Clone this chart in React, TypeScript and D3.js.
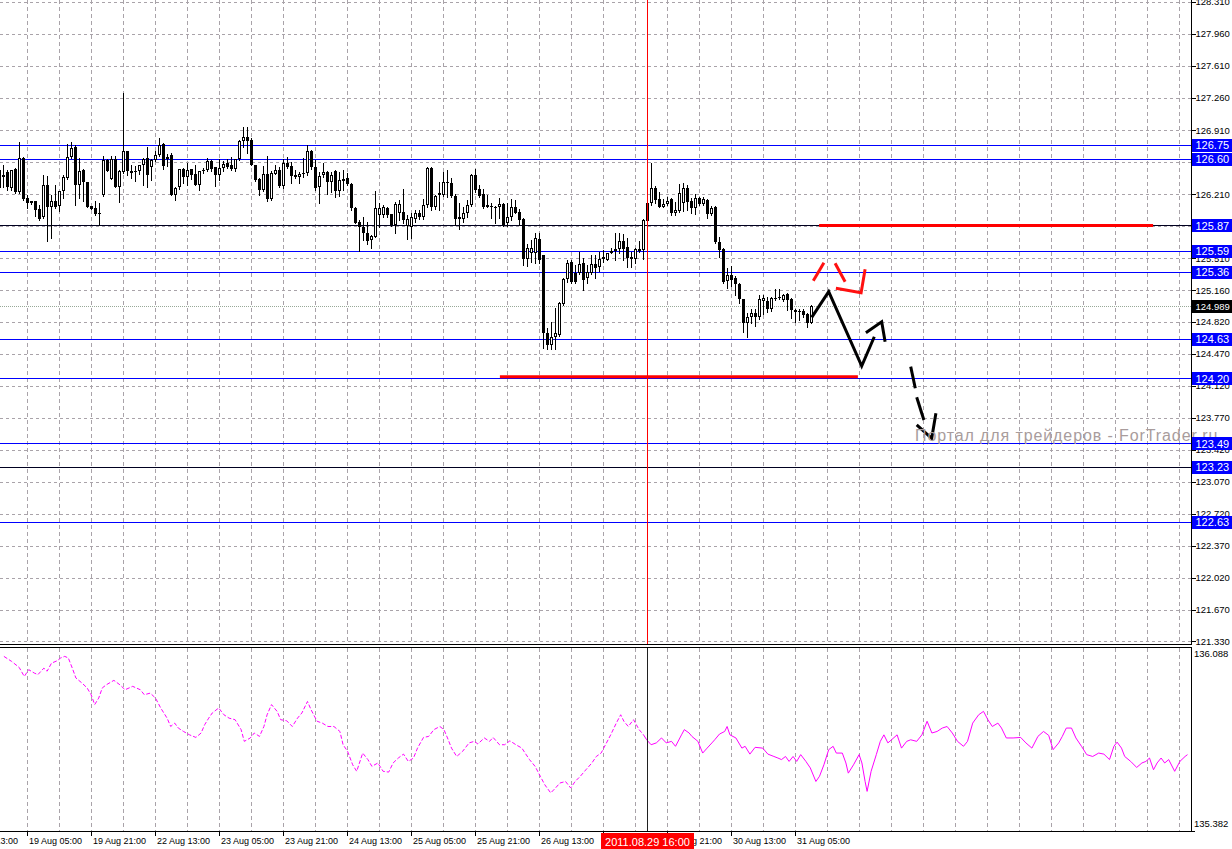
import React from "react";
import * as d3 from "d3";

// ---------- DATA ----------
// H1 bars, first bar index -1 (18 Aug 22:00). Rows: [open, high, low, close]
const FIRST_BAR = -1;
const bars: [number, number, number, number][] = [
  [126.478, 126.526, 126.27, 126.278],
  [126.394, 126.526, 126.285, 126.416],
  [126.453, 126.478, 126.26, 126.293],
  [126.278, 126.475, 126.256, 126.475],
  [126.489, 126.496, 126.223, 126.234],
  [126.234, 126.78, 126.223, 126.606],
  [126.606, 126.613, 126.151, 126.162],
  [126.169, 126.205, 126.06, 126.114],
  [126.111, 126.14, 126.103, 126.132],
  [126.132, 126.132, 125.969, 126.038],
  [126.045, 126.096, 125.932, 125.943],
  [125.965, 126.416, 125.95, 126.314],
  [126.314, 126.405, 125.703, 126.067],
  [126.067, 126.198, 125.732, 126.132],
  [126.132, 126.314, 126.06, 126.074],
  [126.078, 126.249, 126.023, 126.242],
  [126.242, 126.416, 126.169, 126.394],
  [126.387, 126.758, 126.38, 126.613],
  [126.62, 126.78, 126.606, 126.715],
  [126.722, 126.744, 126.089, 126.307],
  [126.307, 126.606, 126.169, 126.467],
  [126.475, 126.482, 126.132, 126.344],
  [126.344, 126.344, 126.067, 126.074],
  [126.081, 126.081, 126.052, 126.052],
  [126.06, 126.132, 125.987, 125.994],
  [126.001, 126.114, 125.878, 126.005],
  [126.198, 126.624, 126.187, 126.587],
  [126.587, 126.598, 126.46, 126.467],
  [126.38, 126.624, 126.38, 126.591],
  [126.591, 126.624, 126.285, 126.293],
  [126.293, 126.478, 126.125, 126.46],
  [126.453, 127.315, 126.442, 126.678],
  [126.678, 126.686, 126.416, 126.467],
  [126.467, 126.526, 126.387, 126.445],
  [126.467, 126.515, 126.358, 126.453],
  [126.46, 126.533, 126.431, 126.526],
  [126.526, 126.606, 126.314, 126.598],
  [126.606, 126.722, 126.285, 126.424],
  [126.504, 126.598, 126.369, 126.587],
  [126.587, 126.686, 126.577, 126.642],
  [126.642, 126.824, 126.624, 126.751],
  [126.758, 126.769, 126.489, 126.515],
  [126.62, 126.65, 126.52, 126.6],
  [126.635, 126.66, 126.198, 126.198],
  [126.198, 126.293, 126.151, 126.278],
  [126.285, 126.482, 126.263, 126.482],
  [126.482, 126.496, 126.333, 126.394],
  [126.394, 126.551, 126.314, 126.478],
  [126.489, 126.489, 126.38, 126.416],
  [126.431, 126.533, 126.314, 126.314],
  [126.307, 126.46, 126.26, 126.46],
  [126.475, 126.496, 126.442, 126.46],
  [126.475, 126.606, 126.467, 126.577],
  [126.569, 126.587, 126.467, 126.489],
  [126.504, 126.511, 126.303, 126.416],
  [126.416, 126.598, 126.369, 126.496],
  [126.496, 126.577, 126.46, 126.54],
  [126.555, 126.598, 126.496, 126.511],
  [126.526, 126.613, 126.475, 126.482],
  [126.482, 126.598, 126.467, 126.598],
  [126.598, 126.806, 126.587, 126.795],
  [126.795, 126.948, 126.722, 126.831],
  [126.839, 126.94, 126.66, 126.795],
  [126.802, 126.824, 126.526, 126.526],
  [126.526, 126.533, 126.351, 126.369],
  [126.38, 126.387, 126.205, 126.26],
  [126.26, 126.515, 126.249, 126.431],
  [126.431, 126.624, 126.14, 126.162],
  [126.162, 126.46, 126.151, 126.438],
  [126.431, 126.533, 126.431, 126.475],
  [126.475, 126.511, 126.293, 126.3],
  [126.3, 126.591, 126.275, 126.548],
  [126.548, 126.621, 126.493, 126.511],
  [126.519, 126.566, 126.329, 126.409],
  [126.417, 126.475, 126.384, 126.395],
  [126.395, 126.457, 126.329, 126.431],
  [126.431, 126.602, 126.402, 126.446],
  [126.439, 126.748, 126.42, 126.679],
  [126.679, 126.693, 126.482, 126.511],
  [126.504, 126.584, 126.257, 126.275],
  [126.293, 126.457, 126.111, 126.409],
  [126.417, 126.555, 126.402, 126.457],
  [126.457, 126.468, 126.213, 126.348],
  [126.348, 126.457, 126.238, 126.42],
  [126.464, 126.475, 126.184, 126.246],
  [126.246, 126.457, 126.191, 126.366],
  [126.359, 126.475, 126.257, 126.373],
  [126.384, 126.446, 126.311, 126.319],
  [126.319, 126.337, 126.04, 126.056],
  [126.056, 126.067, 125.893, 125.9],
  [125.911, 125.929, 125.594, 125.849],
  [125.849, 125.958, 125.711, 125.791],
  [125.791, 125.911, 125.667, 125.703],
  [125.711, 125.765, 125.62, 125.754],
  [125.747, 126.249, 125.74, 126.056],
  [125.984, 126.111, 125.856, 126.056],
  [125.984, 126.093, 125.96, 126.067],
  [126.056, 126.067, 125.965, 125.984],
  [125.995, 125.995, 125.864, 125.874],
  [125.874, 126.129, 125.783, 126.104],
  [126.009, 126.148, 125.929, 126.104],
  [126.016, 126.264, 125.893, 125.929],
  [125.864, 125.984, 125.718, 125.944],
  [125.849, 126.002, 125.729, 125.958],
  [125.944, 126.038, 125.911, 126.002],
  [126.002, 126.038, 125.936, 125.965],
  [125.965, 126.155, 125.944, 126.096],
  [126.093, 126.511, 126.067, 126.493],
  [126.493, 126.511, 126.038, 126.075],
  [126.075, 126.202, 126.045, 126.191],
  [126.202, 126.348, 126.038, 126.227],
  [126.202, 126.457, 126.191, 126.348],
  [126.348, 126.475, 126.177, 126.329],
  [126.337, 126.384, 126.177, 126.191],
  [126.191, 126.213, 125.874, 125.944],
  [125.965, 126.111, 125.827, 125.936],
  [125.936, 126.067, 125.911, 126.002],
  [126.002, 126.148, 125.965, 126.093],
  [126.093, 126.431, 126.082, 126.42],
  [126.42, 126.482, 126.238, 126.257],
  [126.264, 126.311, 126.177, 126.191],
  [126.213, 126.264, 126.056, 126.067],
  [126.093, 126.202, 126.067, 126.067],
  [126.082, 126.111, 125.947, 126.067],
  [126.075, 126.08, 125.9, 126.067],
  [126.067, 126.166, 125.947, 126.104],
  [126.104, 126.111, 125.864, 125.874],
  [125.9, 126.111, 125.864, 125.965],
  [125.965, 126.155, 125.929, 126.067],
  [126.067, 126.148, 126.002, 126.009],
  [126.02, 126.045, 125.874, 125.929],
  [125.936, 125.947, 125.438, 125.5],
  [125.5, 125.667, 125.427, 125.62],
  [125.572, 125.711, 125.474, 125.62],
  [125.572, 125.783, 125.456, 125.729],
  [125.718, 125.783, 125.463, 125.492],
  [125.546, 125.547, 124.527, 124.691],
  [124.691, 124.746, 124.516, 124.564],
  [124.564, 124.818, 124.516, 124.655],
  [124.655, 124.964, 124.516, 124.691],
  [124.673, 125.037, 124.662, 125.019],
  [125.011, 125.292, 125.0, 125.281],
  [125.281, 125.492, 125.255, 125.455],
  [125.47, 125.492, 125.237, 125.255],
  [125.353, 125.437, 125.237, 125.255],
  [125.353, 125.583, 125.339, 125.448],
  [125.455, 125.51, 125.164, 125.273],
  [125.291, 125.437, 125.244, 125.364],
  [125.353, 125.546, 125.339, 125.448],
  [125.448, 125.546, 125.292, 125.401],
  [125.419, 125.583, 125.375, 125.499],
  [125.499, 125.601, 125.474, 125.521],
  [125.492, 125.572, 125.492, 125.565],
  [125.565, 125.619, 125.565, 125.594],
  [125.594, 125.783, 125.492, 125.616],
  [125.608, 125.783, 125.565, 125.703],
  [125.703, 125.776, 125.492, 125.608],
  [125.637, 125.728, 125.419, 125.51],
  [125.521, 125.583, 125.412, 125.506],
  [125.499, 125.619, 125.463, 125.608],
  [125.608, 125.703, 125.583, 125.594],
  [125.601, 125.936, 125.499, 125.929],
  [125.921, 126.129, 125.921, 126.118],
  [126.118, 126.555, 126.092, 126.275],
  [126.275, 126.3, 126.111, 126.147],
  [126.154, 126.238, 126.067, 126.074],
  [126.074, 126.154, 126.067, 126.103],
  [126.103, 126.183, 126.092, 126.14],
  [126.154, 126.165, 125.983, 126.001],
  [126.001, 126.129, 125.983, 126.038],
  [126.031, 126.322, 126.02, 126.227],
  [126.118, 126.329, 126.031, 126.275],
  [126.275, 126.311, 126.038, 126.129],
  [126.14, 126.165, 126.001, 126.056],
  [126.056, 126.213, 125.994, 126.165],
  [126.165, 126.183, 126.092, 126.103],
  [126.103, 126.183, 126.092, 126.154],
  [126.147, 126.154, 125.947, 125.994],
  [125.994, 126.082, 125.983, 126.056],
  [126.074, 126.082, 125.674, 125.692],
  [125.692, 125.739, 125.521, 125.601],
  [125.608, 125.619, 125.244, 125.255],
  [125.266, 125.401, 125.182, 125.328],
  [125.328, 125.426, 125.208, 125.273],
  [125.291, 125.317, 125.11, 125.23],
  [125.23, 125.244, 125.019, 125.062],
  [125.062, 125.062, 124.709, 124.807],
  [124.8, 124.909, 124.647, 124.866],
  [124.866, 124.953, 124.807, 124.909],
  [124.917, 124.953, 124.771, 124.866],
  [124.866, 125.11, 124.844, 125.062],
  [125.044, 125.11, 124.902, 125.073],
  [125.048, 125.091, 124.928, 124.953],
  [124.953, 125.091, 124.939, 125.073],
  [125.081, 125.171, 125.055, 125.077],
  [125.077, 125.171, 125.062, 125.091],
  [125.055, 125.12, 125.048, 125.11],
  [125.12, 125.135, 124.946, 125.055],
  [125.062, 125.073, 124.855, 124.946],
  [124.946, 124.953, 124.818, 124.928],
  [124.939, 124.953, 124.837, 124.924],
  [124.935, 124.953, 124.873, 124.888],
  [124.902, 124.917, 124.757, 124.807],
  [124.807, 124.997, 124.8, 124.989],
];

const priceTicks = [
  "128.310", "127.960", "127.610", "127.260", "126.910", "126.560", "126.210",
  "125.860", "125.510", "125.160", "124.820", "124.470", "124.120", "123.770",
  "123.420", "123.070", "122.720", "122.370", "122.020", "121.670", "121.330",
];
const blueLevels = [126.75, 126.6, 125.59, 125.36, 124.63, 124.2, 123.49, 122.63];
const darkLevels = [125.87, 123.23];
const bidPrice = 124.989;

const timeLabels = [
  "18 Aug 13:00", "19 Aug 05:00", "19 Aug 21:00", "22 Aug 13:00", "23 Aug 05:00",
  "23 Aug 21:00", "24 Aug 13:00", "25 Aug 05:00", "25 Aug 21:00", "26 Aug 13:00",
  "29 Aug 05:00", "29 Aug 21:00", "30 Aug 13:00", "31 Aug 05:00",
];
const TIME_LABEL_FIRST_BAR = -10;
const TIME_LABEL_STEP = 16;
const GRID_FIRST_BAR = 6;
const GRID_LAST_BAR = 294;
const GRID_STEP = 8;
const crossBar = 161;
const crossLabel = "2011.08.29 16:00";

// lower window series: [bar index, value]
const oscTicks = ["136.088", "135.382"];
const OSC_MAX = 136.088;
const OSC_MIN = 135.382;
const OSC_SOLID_FROM = 160;
const oscPoints: [number, number][] = [
  [0.1, 136.052], [2.0, 136.033], [3.9, 136.01], [5.2, 135.975], [6.3, 136.001], [7.7, 135.988],
  [8.6, 135.982], [10.1, 136.007], [10.9, 135.995], [12.0, 136.026], [13.4, 136.035], [14.3, 136.046],
  [15.3, 136.052], [16.2, 136.046], [17.2, 136.007], [18.1, 135.969], [19.6, 135.95], [20.9, 135.931],
  [21.9, 135.905], [22.8, 135.867], [23.8, 135.892], [24.7, 135.931], [25.7, 135.943], [27.6, 135.96],
  [29.1, 135.943], [30.4, 135.924], [32.3, 135.937], [34.2, 135.924], [35.2, 135.905], [36.7, 135.911],
  [38.0, 135.892], [39.3, 135.854], [40.9, 135.815], [41.8, 135.783], [42.8, 135.796], [43.7, 135.777],
  [45.0, 135.764], [46.5, 135.751], [48.1, 135.741], [49.4, 135.758], [50.3, 135.79], [51.3, 135.815],
  [52.2, 135.835], [53.8, 135.854], [55.1, 135.828], [56.4, 135.815], [57.9, 135.809], [59.4, 135.771],
  [60.2, 135.726], [61.7, 135.739], [62.7, 135.758], [64.0, 135.745], [65.1, 135.783], [65.9, 135.828],
  [67.0, 135.867], [68.4, 135.841], [69.3, 135.809], [70.8, 135.805], [72.2, 135.783], [73.5, 135.815],
  [74.6, 135.835], [76.0, 135.879], [76.9, 135.847], [78.4, 135.803], [79.7, 135.796], [81.1, 135.783],
  [82.6, 135.783], [84.1, 135.764], [84.9, 135.713], [86.0, 135.688], [87.3, 135.636], [88.3, 135.611],
  [89.8, 135.681], [91.1, 135.656], [92.1, 135.63], [93.6, 135.643], [94.9, 135.611], [96.3, 135.608],
  [97.4, 135.643], [98.7, 135.662], [100.0, 135.677], [101.2, 135.649], [102.5, 135.662], [103.5, 135.7],
  [105.0, 135.741], [106.3, 135.745], [107.6, 135.771], [109.1, 135.783], [110.1, 135.771], [111.0, 135.739],
  [112.0, 135.7], [113.3, 135.668], [114.8, 135.688], [116.4, 135.72], [117.7, 135.726], [118.6, 135.716],
  [120.2, 135.739], [121.5, 135.726], [122.4, 135.741], [124.0, 135.713], [125.3, 135.713], [126.6, 135.728],
  [128.1, 135.713], [129.6, 135.7], [130.4, 135.681], [131.5, 135.656], [132.9, 135.63], [134.2, 135.592],
  [135.3, 135.56], [136.8, 135.528], [138.0, 135.547], [139.1, 135.566], [140.5, 135.572], [141.8, 135.547],
  [142.9, 135.572], [144.2, 135.592], [145.6, 135.617], [147.1, 135.643], [148.2, 135.668], [149.4, 135.681],
  [150.5, 135.713], [151.8, 135.751], [153.2, 135.796], [154.3, 135.828], [155.1, 135.803], [156.2, 135.783],
  [157.5, 135.809], [158.9, 135.771], [160.0, 135.751], [160.8, 135.732], [161.9, 135.713], [163.2, 135.72],
  [164.5, 135.739], [165.7, 135.72], [167.0, 135.726], [168.0, 135.707], [169.5, 135.751], [170.2, 135.771],
  [171.4, 135.758], [172.1, 135.745], [173.6, 135.726], [174.8, 135.681], [175.9, 135.7], [177.1, 135.72],
  [177.8, 135.732], [179.0, 135.754], [180.3, 135.764], [180.9, 135.783], [181.6, 135.751], [183.1, 135.739],
  [184.6, 135.7], [185.4, 135.707], [186.6, 135.677], [187.9, 135.703], [189.8, 135.7], [191.1, 135.677],
  [192.6, 135.668], [193.6, 135.662], [194.5, 135.656], [195.5, 135.668], [196.4, 135.649], [197.4, 135.668],
  [198.3, 135.649], [199.3, 135.675], [200.6, 135.649], [201.7, 135.624], [203.1, 135.572], [204.0, 135.592],
  [205.1, 135.636], [206.3, 135.694], [207.4, 135.707], [208.2, 135.681], [209.7, 135.681], [210.6, 135.643],
  [211.2, 135.604], [212.5, 135.636], [213.9, 135.675], [214.6, 135.643], [215.4, 135.572], [215.9, 135.534],
  [216.9, 135.611], [218.2, 135.675], [219.2, 135.726], [220.1, 135.751], [221.1, 135.72], [222.0, 135.732],
  [223.4, 135.751], [224.5, 135.7], [225.8, 135.726], [226.8, 135.732], [228.3, 135.726], [229.6, 135.751],
  [230.9, 135.803], [232.1, 135.758], [233.4, 135.764], [234.7, 135.777], [235.9, 135.783], [237.2, 135.758],
  [238.5, 135.726], [240.0, 135.707], [241.0, 135.726], [242.3, 135.796], [243.8, 135.828], [245.0, 135.841],
  [246.1, 135.809], [247.2, 135.783], [248.6, 135.796], [249.5, 135.777], [250.7, 135.739], [252.4, 135.739],
  [254.3, 135.741], [255.6, 135.72], [257.1, 135.7], [258.6, 135.745], [260.0, 135.764], [261.3, 135.749],
  [262.4, 135.694], [263.8, 135.72], [264.7, 135.745], [265.7, 135.777], [267.0, 135.777], [268.1, 135.739],
  [269.5, 135.707], [270.8, 135.675], [272.3, 135.668], [273.8, 135.681], [275.1, 135.677], [276.5, 135.656],
  [277.6, 135.707], [278.4, 135.723], [279.5, 135.7], [280.3, 135.668], [281.8, 135.649], [283.3, 135.626],
  [284.6, 135.643], [285.6, 135.649], [286.5, 135.662], [287.5, 135.617], [288.4, 135.643], [289.4, 135.662],
  [290.3, 135.643], [291.3, 135.656], [292.8, 135.611], [294.1, 135.649], [295.4, 135.668], [296.0, 135.675],
];

// hand-drawn annotations, in [bar index, price]
const redLevels = [
  { from: 203.9, to: 287.4, price: 125.87 },
  { from: 124.1, to: 213.6, price: 124.218 },
];
const blackStrokes: [number, number][][] = [
  [[202.05, 124.866], [206.3, 125.146], [214.55, 124.334], [217.7, 124.654]],
  [[215.6, 124.698], [219.55, 124.818], [220.4, 124.6]],
  [[226.8, 124.327], [227.95, 124.091]],
  [[228.3, 123.993], [230.1, 123.745]],
  [[228.3, 123.69], [232.05, 123.545], [233.1, 123.818]],
];
const redStrokes: [number, number][][] = [
  [[202.45, 125.266], [205.1, 125.462]],
  [[207.9, 125.456], [210.4, 125.255]],
  [[208.1, 125.183], [214.4, 125.135], [215.4, 125.39]],
];
const watermark = "Портал для трейдеров - ForTrader.ru";

// ---------- LAYOUT ----------
const W = 1232;
const H = 849;
const AXIS_X = 1191.5;
const MAIN_BOTTOM = 644.5;
const OSC_TOP = 647.5;
const OSC_BOTTOM = 831.5;
const FONT = "'Liberation Sans', Arial, sans-serif";
const GRID = "#a9a3a9";

export default function App() {
  const x = d3.scaleLinear().domain([0, 1]).range([3.5, 7.5]);
  const y = d3.scaleLinear().domain([127.96, 121.33]).range([34, 641.1]);
  const yo = d3.scaleLinear().domain([OSC_MAX, OSC_MIN]).range([647, 831]);
  const snap = (v: number) => Math.round(v) + 0.5;

  const gridBars = d3.range(GRID_FIRST_BAR, GRID_LAST_BAR + 1, GRID_STEP);
  const line = d3
    .line<[number, number]>()
    .x((d) => x(d[0]))
    .y((d) => y(d[1]));
  const oscLine = d3
    .line<[number, number]>()
    .x((d) => x(d[0]))
    .y((d) => yo(d[1]));
  const oscDashed = oscPoints.filter((p) => p[0] <= OSC_SOLID_FROM);
  const oscSolid = oscPoints.filter((p) => p[0] >= OSC_SOLID_FROM);

  return (
    <svg
      width={W}
      height={H}
      style={{ position: "absolute", left: 0, top: 0, display: "block", background: "#fff" }}
      fontFamily={FONT}
    >
      <defs>
        <clipPath id="mainClip">
          <rect x={0} y={0} width={AXIS_X} height={MAIN_BOTTOM} />
        </clipPath>
        <clipPath id="oscClip">
          <rect x={0} y={OSC_TOP} width={AXIS_X} height={OSC_BOTTOM - OSC_TOP} />
        </clipPath>
      </defs>
      <rect x={0} y={0} width={W} height={H} fill="#fff" />

      {/* main window */}
      <g clipPath="url(#mainClip)">
        {priceTicks.map((t) => (
          <line key={"hg" + t} x1={0} x2={AXIS_X} y1={snap(y(+t))} y2={snap(y(+t))}
            stroke={GRID} strokeDasharray="3,3" shapeRendering="crispEdges" />
        ))}
        {gridBars.map((k) => (
          <line key={"vg" + k} x1={x(k)} x2={x(k)} y1={0} y2={MAIN_BOTTOM}
            stroke={GRID} strokeDasharray="4,3" shapeRendering="crispEdges" />
        ))}
        <line x1={0} x2={AXIS_X} y1={snap(y(bidPrice))} y2={snap(y(bidPrice))}
          stroke="#98a898" strokeDasharray="1,1" shapeRendering="crispEdges" />
        {blueLevels.map((v) => (
          <line key={"bl" + v} x1={0} x2={AXIS_X} y1={snap(y(v))} y2={snap(y(v))}
            stroke="#0000ff" shapeRendering="crispEdges" />
        ))}
        {darkLevels.map((v) => (
          <line key={"dl" + v} x1={0} x2={AXIS_X} y1={snap(y(v))} y2={snap(y(v))}
            stroke="#000020" shapeRendering="crispEdges" />
        ))}
        {redLevels.map((r, i) => (
          <line key={"rl" + i} x1={x(r.from)} x2={x(r.to)} y1={y(r.price)} y2={y(r.price)}
            stroke="#ff0000" strokeWidth={3} />
        ))}
        {bars.map((b, i) => {
          const k = FIRST_BAR + i;
          const cx = x(k);
          const [o, h, l, c] = b;
          const top = Math.round(y(Math.max(o, c)));
          const bot = Math.round(y(Math.min(o, c)));
          const bull = c > o && bot - top >= 3;
          return (
            <g key={"c" + k} shapeRendering="crispEdges">
              <line x1={cx} x2={cx} y1={Math.round(y(h))} y2={Math.round(y(l)) + 1} stroke="#000" />
              {bull ? (
                <rect x={cx - 1} y={top + 0.5} width={2} height={bot - top - 1} fill="#fff" stroke="#000" />
              ) : (
                <rect x={cx - 1.5} y={top} width={3} height={Math.max(bot - top, 1)} fill="#000" />
              )}
            </g>
          );
        })}
        {blackStrokes.map((s, i) => (
          <path key={"bs" + i} d={line(s) || ""} fill="none" stroke="#000" strokeWidth={3}
            strokeLinejoin="miter" strokeLinecap="butt" />
        ))}
        {redStrokes.map((s, i) => (
          <path key={"rs" + i} d={line(s) || ""} fill="none" stroke="#ff1010" strokeWidth={3}
            strokeLinejoin="miter" strokeLinecap="butt" />
        ))}
        <line x1={x(crossBar)} x2={x(crossBar)} y1={0} y2={MAIN_BOTTOM} stroke="#ff0000"
          shapeRendering="crispEdges" />
      </g>
      <text x={915} y={441} fontSize={16} letterSpacing={0.9} fill="#a89c9c">{watermark}</text>

      {/* frames */}
      <line x1={0} x2={AXIS_X} y1={MAIN_BOTTOM} y2={MAIN_BOTTOM} stroke="#000" shapeRendering="crispEdges" />
      <line x1={AXIS_X} x2={AXIS_X} y1={0} y2={MAIN_BOTTOM} stroke="#000" shapeRendering="crispEdges" />

      {/* price axis */}
      {priceTicks.map((t) => (
        <g key={"pt" + t}>
          <line x1={AXIS_X} x2={AXIS_X + 4} y1={snap(y(+t))} y2={snap(y(+t))} stroke="#000"
            shapeRendering="crispEdges" />
          <text x={1195.5} y={y(+t) + 3.4} fontSize={9.5} fill="#000">{t}</text>
        </g>
      ))}
      {[...blueLevels, ...darkLevels].map((v) => (
        <g key={"lb" + v}>
          <rect x={1192} y={Math.round(y(v)) - 6} width={40} height={13} fill="#0000ff" />
          <text x={1195.5} y={y(v) + 4.3} fontSize={11} fill="#fff">{v.toFixed(2)}</text>
        </g>
      ))}
      <rect x={1192} y={Math.round(y(bidPrice)) - 6} width={40} height={13} fill="#000" />
      <text x={1195.5} y={y(bidPrice) + 3.6} fontSize={9.5} fill="#fff">{bidPrice.toFixed(3)}</text>

      {/* lower window */}
      <g clipPath="url(#oscClip)">
        {gridBars.map((k) => (
          <line key={"ovg" + k} x1={x(k)} x2={x(k)} y1={OSC_TOP} y2={OSC_BOTTOM}
            stroke={GRID} strokeDasharray="4,3" shapeRendering="crispEdges" />
        ))}
        <path d={oscLine(oscDashed) || ""} fill="none" stroke="#ff00ff" strokeWidth={1}
          strokeDasharray="4,2" />
        <path d={oscLine(oscSolid) || ""} fill="none" stroke="#ff00ff" strokeWidth={1} />
        <line x1={x(crossBar)} x2={x(crossBar)} y1={OSC_TOP} y2={OSC_BOTTOM} stroke="#202020"
          shapeRendering="crispEdges" />
      </g>
      <line x1={0} x2={AXIS_X} y1={OSC_TOP} y2={OSC_TOP} stroke="#000" shapeRendering="crispEdges" />
      <line x1={0} x2={AXIS_X} y1={OSC_BOTTOM} y2={OSC_BOTTOM} stroke="#000" shapeRendering="crispEdges" />
      <line x1={AXIS_X} x2={AXIS_X} y1={OSC_TOP} y2={OSC_BOTTOM} stroke="#000" shapeRendering="crispEdges" />
      <line x1={AXIS_X} x2={AXIS_X + 3} y1={OSC_BOTTOM} y2={OSC_BOTTOM} stroke="#000" shapeRendering="crispEdges" />
      <text x={1194} y={657} fontSize={9.5} fill="#000">{oscTicks[0]}</text>
      <text x={1194} y={826.5} fontSize={9.5} fill="#000">{oscTicks[1]}</text>

      {/* time axis */}
      {timeLabels.map((t, i) => {
        const k = TIME_LABEL_FIRST_BAR + i * TIME_LABEL_STEP;
        const tx = x(k);
        return (
          <g key={"tl" + t}>
            <line x1={tx} x2={tx} y1={OSC_BOTTOM} y2={OSC_BOTTOM + 4} stroke="#000" shapeRendering="crispEdges" />
            <text x={tx + 1.5} y={844} fontSize={9} fill="#000">{t}</text>
          </g>
        );
      })}
      <rect x={x(crossBar) - 46.5} y={833} width={93} height={16} fill="#ff0000" />
      <text x={x(crossBar)} y={845.5} fontSize={11} fill="#fff" textAnchor="middle">{crossLabel}</text>
    </svg>
  );
}
